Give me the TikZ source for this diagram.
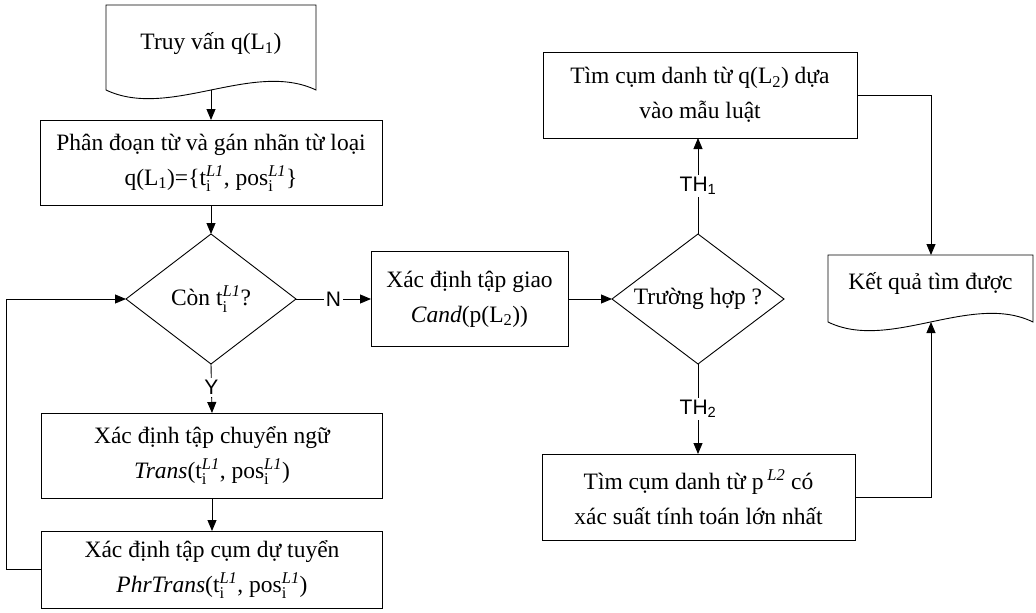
\documentclass[tikz,border=0pt]{standalone}
\usepackage{fontspec}
\setmainfont{Liberation Serif}
\newfontfamily\labfont{Liberation Sans}
\usetikzlibrary{shapes.geometric,arrows.meta}

% t_i^{L1} and pos_i^{L1}
\newcommand\tiL{$\mathrm{t}_{\mathrm{i}}^{\mathit{L1}}$}
\newcommand\posL{$\mathrm{pos}_{\mathrm{i}}^{\mathit{L1}}$}

% document symbol: flat top, wavy bottom
\newcommand\docpath[5]{%
  \draw[line] (#1,#3) -- (#2,#3) -- (#2,#4)
    .. controls ({#2-0.3*(#2-#1)},{#4-#5}) and ({#1+0.3*(#2-#1)},{#4+#5}) .. (#1,#4) -- cycle;}

\tikzset{
  line/.style={line width=0.9pt, draw=black},
  arr/.style={line, -{Triangle[length=11pt,width=9pt]}},
  txt/.style={font=\fontsize{23.5}{35}\selectfont, align=center, inner sep=0pt},
  procbox/.style={txt, line, rectangle, outer sep=0pt},
  decide/.style={txt, line, diamond, aspect=1.3, outer sep=0pt},
  lab/.style={font=\labfont\fontsize{21}{24}\selectfont, fill=white, inner sep=2pt},
}

\begin{document}
\begin{tikzpicture}[x=1pt, y=-1pt]
\useasboundingbox (0,0) rectangle (1036,613);

% input document
\docpath{106}{316}{5}{90}{30}
\node[txt] (doc1) at (211,44) {Truy vấn q(L\textsubscript{1})};
\coordinate (doc1out) at (211,90);

% left column
\node[procbox, minimum width=342pt, minimum height=85pt] (seg) at (211,162.5)
  {Phân đoạn từ và gán nhãn từ loại\\q(L\textsubscript{1})=\{\tiL, \posL\}};
\node[decide, minimum width=170pt, minimum height=130pt] (con) at (211,299)
  {Còn \tiL?};
\node[procbox, minimum width=341pt, minimum height=85pt] (trans) at (212,455.5)
  {Xác định tập chuyển ngữ\\{\itshape Trans}(\tiL, \posL)};
\node[procbox, minimum width=341pt, minimum height=77pt] (phr) at (212,569.5)
  {Xác định tập cụm dự tuyển\\{\itshape PhrTrans}(\tiL, \posL)};

% middle
\node[procbox, minimum width=197pt, minimum height=95pt] (giao) at (469.5,299)
  {Xác định tập giao\\{\itshape Cand}(p(L\textsubscript{2}))};
\node[decide, minimum width=172pt, minimum height=130pt] (th) at (698,299)
  {Trường hợp ?};

% right column
\node[procbox, minimum width=314pt, minimum height=86pt] (tr) at (700,95)
  {Tìm cụm danh từ q(L\textsubscript{2}) dựa\\vào mẫu luật};
\node[procbox, minimum width=313pt, minimum height=86pt] (br) at (698.5,497)
  {Tìm cụm danh từ p\,\textsuperscript{\itshape L2} có\\xác suất tính toán lớn nhất};

% output document
\docpath{828}{1033}{255}{322}{30}
\node[txt] (kq) at (930.5,283) {Kết quả tìm được};
\coordinate (kqtop) at (931,255);
\coordinate (kqbot) at (931,322);

% connectors
\draw[arr] (doc1out) -- (seg.north);
\draw[arr] (seg.south) -- (con.north);
\draw[arr] (con.east) -- node[lab] {N} (giao.west);
\draw[arr] (con.south) -- node[lab, pos=0.48] {Y} (trans.north);
\draw[arr] (trans.south) -- (phr.north);
\draw[arr] (phr.west) -- ++(-35,0) |- (con.west);
\draw[arr] (giao.east) -- (th.west);
\draw[arr] (th.north) -- node[lab] {TH\textsubscript{1}} (th.north |- tr.south);
\draw[arr] (th.south) -- node[lab] {TH\textsubscript{2}} (th.south |- br.north);
\draw[arr] (tr.east) -| (kqtop);
\draw[arr] (br.east) -| (kqbot);
\end{tikzpicture}
\end{document}
